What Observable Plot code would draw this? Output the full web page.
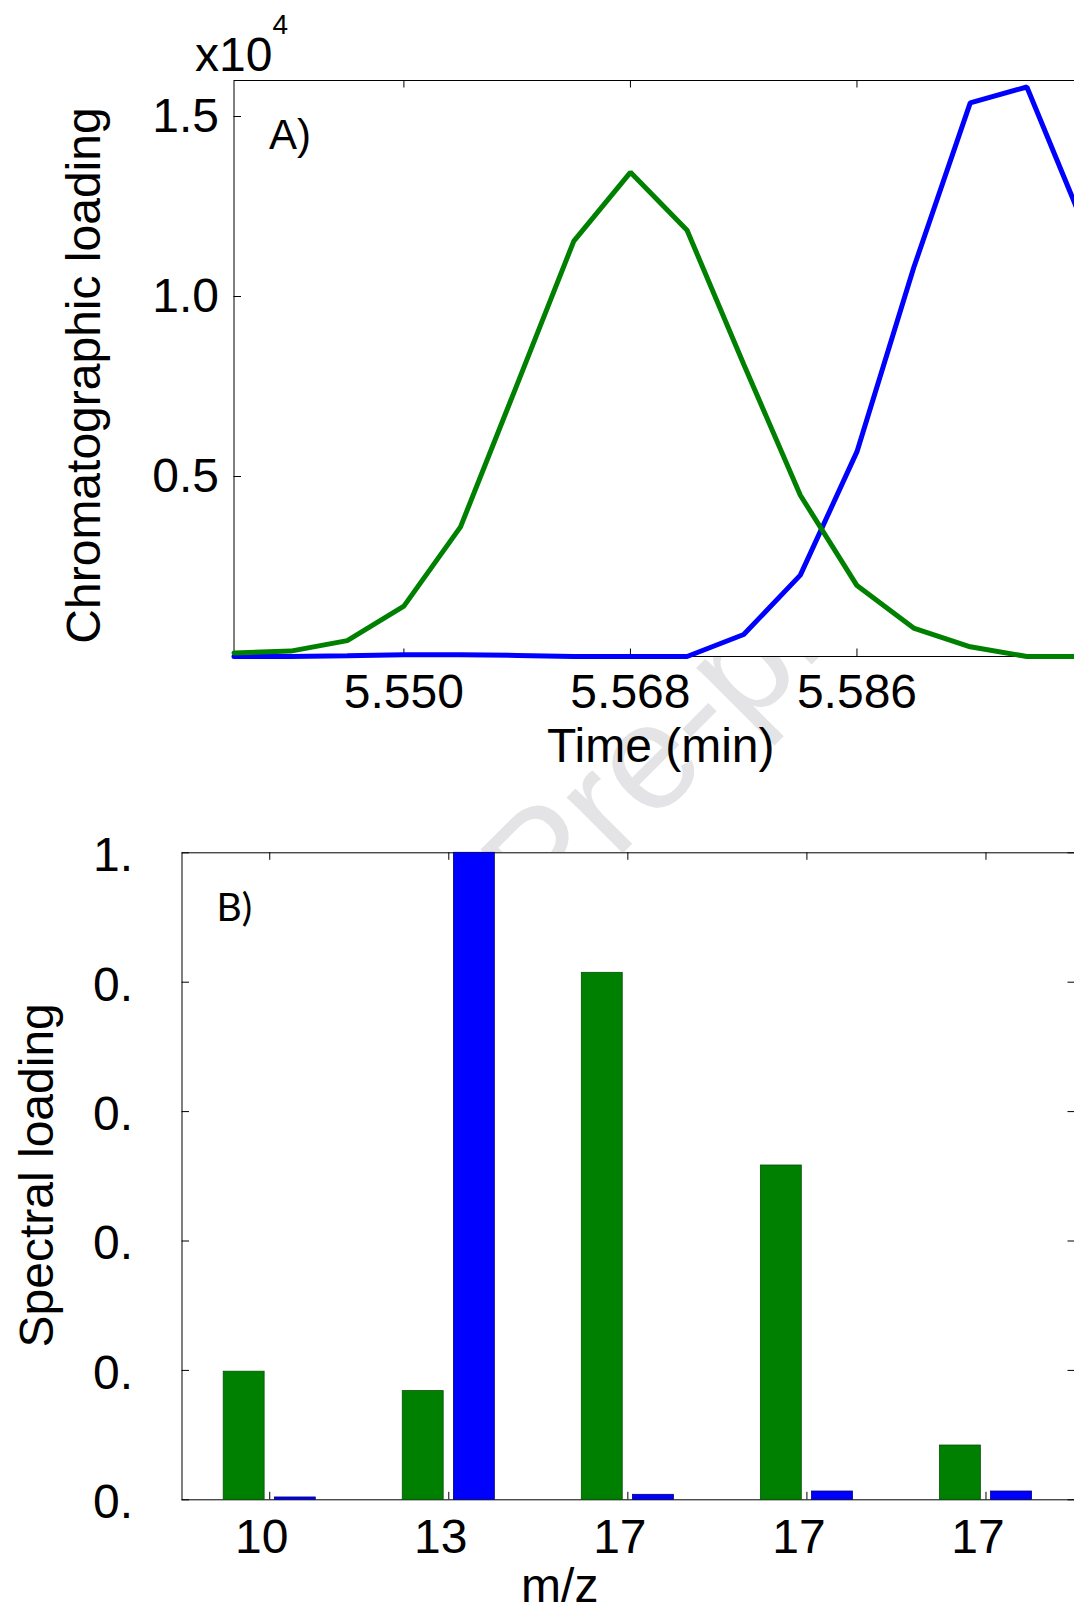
<!DOCTYPE html>
<html>
<head>
<meta charset="utf-8">
<script src="https://cdn.jsdelivr.net/npm/d3@7"></script>
<script src="https://cdn.jsdelivr.net/npm/@observablehq/plot@0.6"></script>
<style>
  html, body { margin: 0; padding: 0; background: white; overflow: hidden; }
  #page { position: relative; width: 1074px; height: 1611px; overflow: hidden; background: white; }
  #page > svg { position: absolute; left: 0; }
  #wmclip { position: absolute; left: 0; top: 656px; width: 1074px; height: 196px; overflow: hidden; }
  #wm { position: absolute; left: 0; top: 0; font-family: "Liberation Sans", Arial, sans-serif;
        font-size: 150px; color: #e4e4e6; white-space: nowrap; line-height: 1; transform-origin: 50% 50%; }
</style>
</head>
<body>
<div id="page"><div id="wmclip"><div id="wm">Journal Pre-proof</div></div></div>
<script>
// ---------- Panel A: chromatographic loadings ----------
const times = [5.5365, 5.5410, 5.5455, 5.5500, 5.5545, 5.5590, 5.5635, 5.5680,
               5.5725, 5.5770, 5.5815, 5.5860, 5.5905, 5.5950, 5.5995, 5.6040];
const chromGreen = [0.010, 0.015, 0.044, 0.140, 0.360, 0.756, 1.154, 1.345,
                    1.184, 0.812, 0.448, 0.197, 0.079, 0.027, 0.000, 0.000];
const chromBlue  = [0.000, 0.000, 0.002, 0.005, 0.005, 0.003, 0.000, 0.000,
                    0.000, 0.061, 0.226, 0.569, 1.079, 1.538, 1.582, 1.200];
const timeTicks = [5.550, 5.568, 5.586];
const timeTickLabels = ["5.550", "5.568", "5.586"];
const chromYTicks = [0.5, 1.0, 1.5];
const chromYTickLabels = ["0.5", "1.0", "1.5"];

// ---------- Panel B: spectral loadings ----------
const mzPositions = [1, 2, 3, 4, 5];
const mzLabels = ["10", "13", "17", "17", "17"];
const specGreen = [0.198, 0.168, 0.8145, 0.5167, 0.0839];
const specBlue  = [0.0036, 1.000, 0.0077, 0.0128, 0.0128];
const specYTicks = [0, 0.2, 0.4, 0.6, 0.8, 1.0];
const specYTickLabels = ["0.", "0.", "0.", "0.", "0.", "1."];

const GREEN = "#008000", BLUE = "#0000ff";
const FONT = "'Liberation Sans', Arial, Helvetica, sans-serif";
const baseStyle = {background: "transparent", maxWidth: "none", overflow: "visible",
                   fontFamily: FONT, fontSize: "48px", color: "black"};

const rowsGreen = times.map((t, i) => ({time: t, value: chromGreen[i]}));
const rowsBlue  = times.map((t, i) => ({time: t, value: chromBlue[i]}));
const fmtMap = (vals, labs) => { const m = new Map(vals.map((v, i) => [v, labs[i]])); return d => m.get(d); };

// Panel A geometry
const A = {width: 1086, height: 790, ml: 233.5, mr: 3, mt: 80, mb: 134};
const aPlotH = A.height - A.mt - A.mb, aPlotW = A.width - A.ml - A.mr;
const tickLen = 7.5;

const plotA = Plot.plot({
  width: A.width, height: A.height,
  marginLeft: A.ml, marginRight: A.mr, marginTop: A.mt, marginBottom: A.mb,
  x: {domain: [times[0], times[times.length - 1]], axis: null, label: null},
  y: {domain: [0, 1.6], axis: null, label: null},
  style: baseStyle,
  marks: [
    Plot.frame({fill: "white", stroke: "black", strokeWidth: 1}),
    Plot.tickX(timeTicks, {x: d => d, insetTop: aPlotH - tickLen, stroke: "black"}),
    Plot.tickX(timeTicks, {x: d => d, insetBottom: aPlotH - tickLen, stroke: "black"}),
    Plot.tickY(chromYTicks, {y: d => d, insetRight: aPlotW - tickLen, stroke: "black"}),
    Plot.line(rowsBlue, {x: "time", y: "value", stroke: BLUE, strokeWidth: 5, strokeLinejoin: "miter"}),
    Plot.line(rowsGreen, {x: "time", y: "value", stroke: GREEN, strokeWidth: 5, strokeLinejoin: "miter"}),
    Plot.axisX({ticks: timeTicks, tickSize: 0, tickPadding: 17, tickFormat: fmtMap(timeTicks, timeTickLabels), anchor: "bottom", fontSize: 48}),
    Plot.axisY({ticks: chromYTicks, tickSize: 0, tickPadding: 15, tickFormat: fmtMap(chromYTicks, chromYTickLabels), anchor: "left", fontSize: 48}),
    Plot.text(["A)"], {text: d => d, frameAnchor: "top-left", dx: 35, dy: 68, textAnchor: "start", lineAnchor: "bottom", fontSize: 42}),
    Plot.text(["x10"], {text: d => d, frameAnchor: "top-left", dx: -39, dy: -10, textAnchor: "start", lineAnchor: "bottom", fontSize: 48}),
    Plot.text(["4"], {text: d => d, frameAnchor: "top-left", dx: 38.5, dy: -47, textAnchor: "start", lineAnchor: "bottom", fontSize: 28}),
    Plot.text(["Chromatographic loading"], {text: d => d, frameAnchor: "left", dx: -134.5, dy: 7, rotate: -90, textAnchor: "middle", lineAnchor: "bottom", fontSize: 48}),
    Plot.text(["Time (min)"], {text: d => d, frameAnchor: "bottom", dx: 2, dy: 105, textAnchor: "middle", lineAnchor: "bottom", fontSize: 48})
  ]
});
plotA.style.top = "0px";

// Panel B geometry
const B = {top: 800, width: 1080, height: 811, ml: 181.5, mr: 5, mt: 52.3, mb: 111.7};
const bPlotH = B.height - B.mt - B.mb, bPlotW = B.width - B.ml - B.mr;
// MATLAB grouped-bar layout for 2 series
const groupWidth = 0.5714, barFrac = 0.8;
const barW = groupWidth / 2 * barFrac;
const offs = [-groupWidth / 4, groupWidth / 4];
const barRows = [];
mzPositions.forEach((p, i) => {
  barRows.push({pos: p, s: 0, value: specGreen[i]});
  barRows.push({pos: p, s: 1, value: specBlue[i]});
});

const plotB = Plot.plot({
  width: B.width, height: B.height,
  marginLeft: B.ml, marginRight: B.mr, marginTop: B.mt, marginBottom: B.mb,
  x: {domain: [0.51, 5.5], axis: null, label: null},
  y: {domain: [0, 1], axis: null, label: null},
  style: baseStyle,
  marks: [
    Plot.frame({fill: "white", stroke: "black", strokeWidth: 1}),
    Plot.tickX(mzPositions, {x: d => d, insetTop: bPlotH - tickLen, stroke: "black"}),
    Plot.tickX(mzPositions, {x: d => d, insetBottom: bPlotH - tickLen, stroke: "black"}),
    Plot.tickY(specYTicks, {y: d => d, insetRight: bPlotW - tickLen, stroke: "black"}),
    Plot.tickY(specYTicks, {y: d => d, insetLeft: bPlotW - tickLen, stroke: "black"}),
    Plot.rect(barRows, {
      x1: d => d.pos + offs[d.s] - barW / 2,
      x2: d => d.pos + offs[d.s] + barW / 2,
      y1: 0, y2: "value",
      fill: d => d.s === 0 ? GREEN : BLUE,
      stroke: d => d.s === 0 ? "#005200" : "#00007a",
      strokeWidth: 0.8
    }),
    Plot.axisX({ticks: mzPositions, tickSize: 0, tickPadding: 19, dx: -8, tickFormat: fmtMap(mzPositions, mzLabels), anchor: "bottom", fontSize: 48}),
    Plot.axisY({ticks: specYTicks, tickSize: 0, tickPadding: 49, dy: 3, tickFormat: fmtMap(specYTicks, specYTickLabels), anchor: "left", fontSize: 48}),
    Plot.text(["B)"], {text: d => d, frameAnchor: "top-left", dx: 34.5, dy: 67.7, textAnchor: "start", lineAnchor: "bottom", fontSize: 39, fontFamily: "Lato, 'Open Sans', sans-serif"}),
    Plot.text(["Spectral loading"], {text: d => d, frameAnchor: "left", dx: -129.5, dy: -1, rotate: -90, textAnchor: "middle", lineAnchor: "bottom", fontSize: 48}),
    Plot.text(["m/z"], {text: d => d, frameAnchor: "bottom", dx: -69, dy: 102, textAnchor: "middle", lineAnchor: "bottom", fontSize: 48})
  ]
});
plotB.style.top = B.top + "px";

const page = document.getElementById("page");
page.appendChild(plotA);
page.appendChild(plotB);

// watermark placement (only visible in the gap between the two axes)
const wm = document.getElementById("wm");
const w = wm.offsetWidth, h = wm.offsetHeight;
wm.style.left = (540 - w / 2) + "px";
wm.style.top = (862 - 656 - h / 2) + "px";
wm.style.transform = "rotate(-45deg)";
</script>
</body>
</html>
